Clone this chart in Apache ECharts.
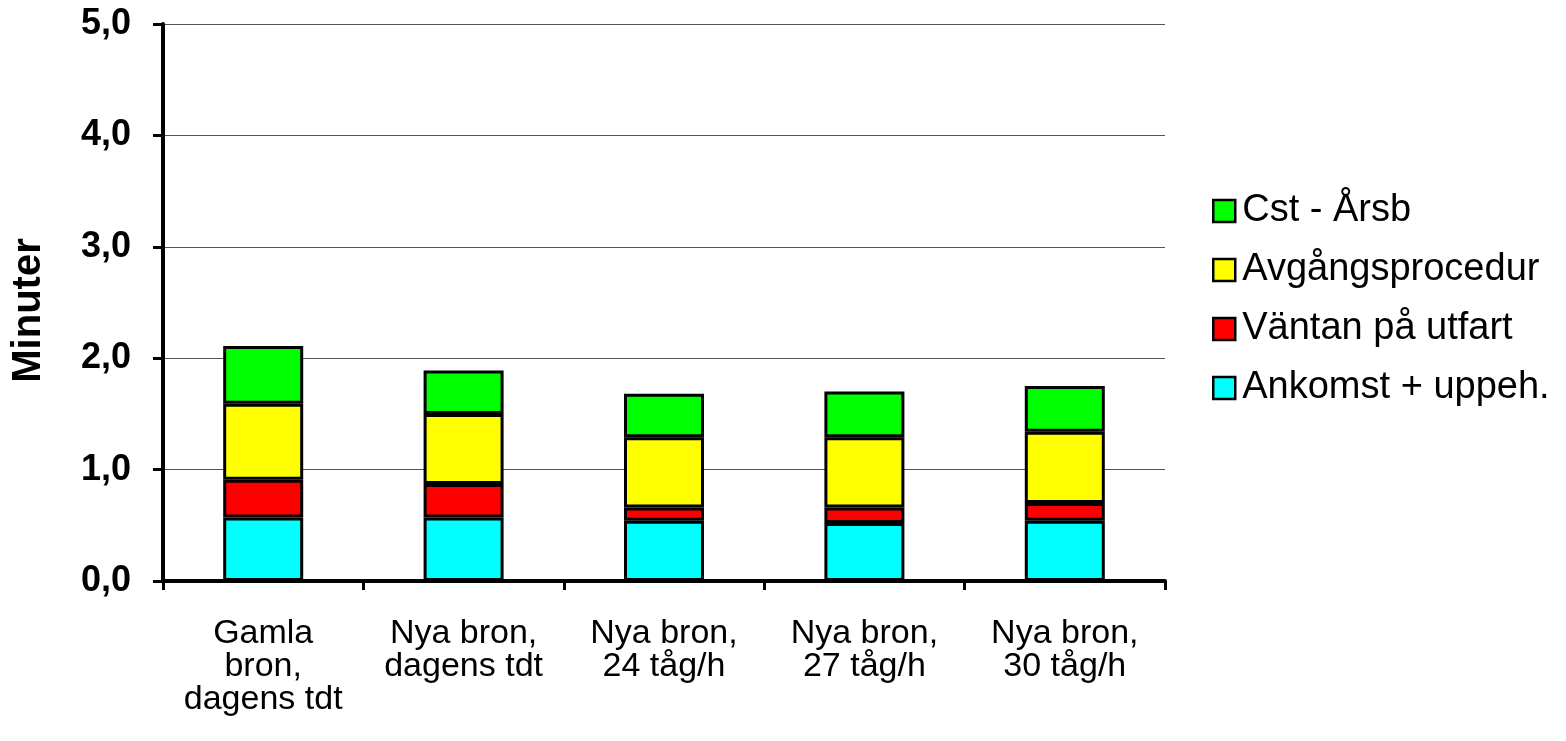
<!DOCTYPE html>
<html>
<head>
<meta charset="utf-8">
<script src="https://cdn.jsdelivr.net/npm/echarts@6/dist/echarts.min.js"></script>
<style>
html,body{margin:0;padding:0;background:#fff;}
#chart{width:1566px;height:741px;}
</style>
</head>
<body>
<div id="chart"></div>
<script>
const categories = ["Gamla\nbron,\ndagens tdt", "Nya bron,\ndagens tdt", "Nya bron,\n24 tåg/h", "Nya bron,\n27 tåg/h", "Nya bron,\n30 tåg/h"];
const ankomst = [0.57, 0.57, 0.54, 0.52, 0.54];
const vantan = [0.34, 0.30, 0.12, 0.14, 0.16];
const avgang = [0.68, 0.63, 0.63, 0.63, 0.64];
const cst = [0.52, 0.39, 0.39, 0.41, 0.41];
const seriesNames = ["Ankomst + uppeh.", "Väntan på utfart", "Avgångsprocedur", "Cst - Årsb"];
const seriesColors = ["#00ffff", "#ff0000", "#ffff00", "#00ff00"];
const seriesData = [ankomst, vantan, avgang, cst];
const yAxisName = "Minuter";

const font = "Arial, 'Liberation Sans', sans-serif";
const chart = echarts.init(document.getElementById('chart'));
chart.setOption({
  animation: false,
  backgroundColor: '#fff',
  grid: {left: 163, right: 401, top: 24, bottom: 160},
  legend: {
    orient: 'vertical',
    left: 1207,
    top: 187,
    itemWidth: 22,
    itemHeight: 22,
    itemGap: 21,
    data: seriesNames.slice().reverse(),
    icon: 'rect',
    itemStyle: {borderColor: '#000', borderWidth: 2.5},
    textStyle: {fontFamily: font, fontSize: 38, color: '#000', padding: [0, 0, 0, 2]}
  },
  xAxis: {
    type: 'category',
    data: categories,
    axisLine: {lineStyle: {color: '#000', width: 4}},
    axisTick: {show: true, length: 9, lineStyle: {color: '#000', width: 3}},
    axisLabel: {fontFamily: font, fontSize: 34, lineHeight: 33, color: '#000', margin: 36, interval: 0}
  },
  yAxis: {
    type: 'value',
    min: 0, max: 5, interval: 1,
    name: yAxisName,
    nameLocation: 'middle',
    nameGap: 114,
    nameTextStyle: {fontFamily: font, fontSize: 40, fontWeight: 'bold', color: '#000', padding: [0, 16, 0, 0]},
    axisLine: {show: true, lineStyle: {color: '#000', width: 4}},
    axisTick: {show: true, length: 10, lineStyle: {color: '#000', width: 3}},
    axisLabel: {fontFamily: font, fontSize: 36, fontWeight: 'bold', color: '#000', margin: 32,
      formatter: v => v.toFixed(1).replace('.', ',')},
    splitLine: {show: true, lineStyle: {color: '#555', width: 1}}
  },
  series: seriesNames.map((n, i) => ({
    name: n,
    type: 'bar',
    stack: 'total',
    barWidth: 80,
    data: seriesData[i],
    itemStyle: {color: seriesColors[i], borderColor: '#000', borderWidth: 3}
  }))
});
</script>
</body>
</html>
